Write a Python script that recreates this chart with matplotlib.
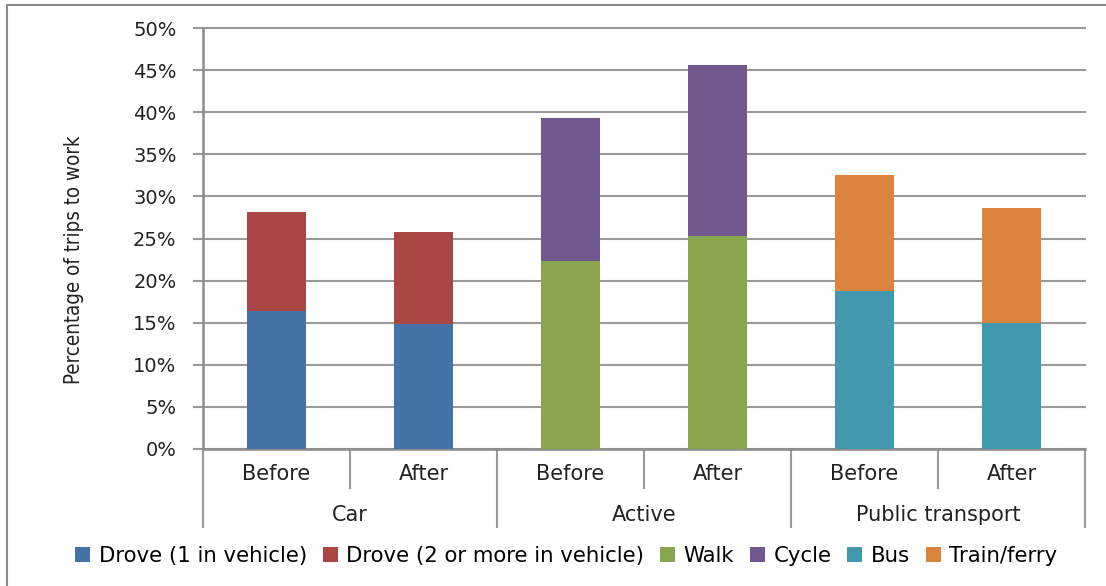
import matplotlib
matplotlib.use("Agg")
import matplotlib.pyplot as plt
from matplotlib.patches import Patch, Rectangle
import matplotlib.transforms as mtransforms

# data (percent of trips to work)
groups = ["Car", "Active", "Public transport"]
periods = ["Before", "After"]
series_names = ["Drove (1 in vehicle)", "Drove (2 or more in vehicle)", "Walk", "Cycle", "Bus", "Train/ferry"]
colors = ["#4572A7", "#AA4643", "#89A54E", "#71588F", "#4198AF", "#DB843D"]

# bottom segment and top segment for each of the 6 bars
bottom_vals = [16.4, 14.8, 22.3, 25.3, 18.8, 15.0]
top_vals = [11.7, 11.0, 17.0, 20.3, 13.7, 13.6]
bottom_series = [0, 0, 2, 2, 4, 4]
top_series = [1, 1, 3, 3, 5, 5]

fig = plt.figure(figsize=(11.06, 5.86), dpi=100)
ax = fig.add_axes([203/1106, 1-449/586, 882/1106, 421/586])

x = list(range(6))
ax.bar(x, bottom_vals, width=0.4, color=[colors[i] for i in bottom_series], zorder=3)
ax.bar(x, top_vals, width=0.4, bottom=bottom_vals, color=[colors[i] for i in top_series], zorder=3)

ax.set_xlim(-0.5, 5.5)
ax.set_ylim(0, 50)
ax.set_yticks(range(0, 51, 5))
ax.set_yticklabels([f"{v}%" for v in range(0, 51, 5)], fontsize=14, color="#222222")
ax.yaxis.grid(True, color="#9a9a9a", linewidth=1.5, zorder=0)
for gl in ax.get_ygridlines():
    gl.set_clip_on(False)
ax.tick_params(axis="y", length=7, width=1.5, color="#9a9a9a", pad=12)
ax.set_xticks([])
for s in ["top", "right"]:
    ax.spines[s].set_visible(False)
for s in ["left", "bottom"]:
    ax.spines[s].set_color("#8c8c8c")
    ax.spines[s].set_linewidth(1.8)

ax.set_ylabel("Percentage of trips to work", fontsize=14.8, fontstretch="condensed",
              color="#222222", va="center")
ax.yaxis.set_label_coords(-0.146, 0.449)

# category axis labels and separators
tr = mtransforms.blended_transform_factory(ax.transData, ax.transAxes)
sub_y = -0.059
grp_y = -0.157
for i in range(6):
    ax.text(i, sub_y, periods[i % 2], transform=tr, ha="center", va="center", fontsize=15, color="#222222")
for g, name in enumerate(groups):
    ax.text(2*g + 0.5, grp_y, name, transform=tr, ha="center", va="center", fontsize=15, color="#222222")
for xs in [0.5, 2.5, 4.5]:
    ax.plot([xs, xs], [0, -0.0926], transform=tr, color="#9a9a9a", lw=1.5, clip_on=False)
for xs in [-0.5, 1.5, 3.5, 5.5]:
    ax.plot([xs, xs], [0, -0.185], transform=tr, color="#9a9a9a", lw=1.5, clip_on=False)

handles = [Patch(facecolor=c, label=n) for c, n in zip(colors, series_names)]
fig.legend(handles=handles, loc="center", bbox_to_anchor=(0.512, 0.052), ncol=6, frameon=False,
           fontsize=15.3, handlelength=0.7, handleheight=0.7, handletextpad=0.4, columnspacing=0.75)

# outer chart border
fig.patches.append(Rectangle((7/1106, -0.1), 1.2, 1 - 5/586 + 0.1, transform=fig.transFigure,
                             fill=False, edgecolor="#8c8c8c", linewidth=1.5))

fig.savefig("out.png", dpi=100)
